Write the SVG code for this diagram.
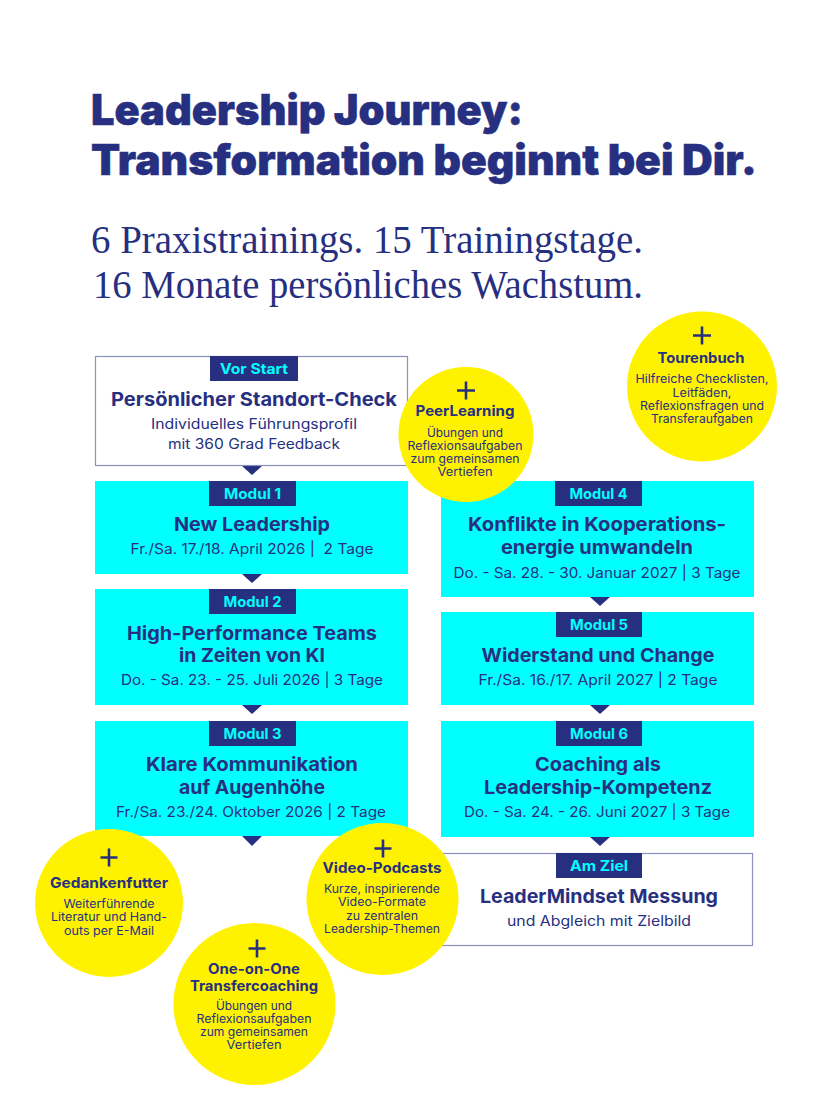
<svg xmlns="http://www.w3.org/2000/svg" width="837" height="1115" viewBox="0 0 837 1115">
<style>
text{font-family:"Inter","Liberation Sans",sans-serif;fill:#262f80;text-anchor:middle}
.h1{font-size:42px;font-weight:900;text-anchor:start;stroke:#262f80;stroke-width:.5}
.h2{font-family:"Liberation Serif",serif;font-size:41px;text-anchor:start}
.box{fill:#00ffff}
.out{fill:#fff;stroke:#8a8fc0;stroke-width:1.2}
.tag{fill:#262f80}
.tt{fill:#00ffff;font-size:14.500px;font-weight:700}
.t{font-size:19px;font-weight:700}
.s{font-size:14px;font-weight:400}
.c{fill:#fff200}
.p{stroke:#262f80;stroke-width:2.600;fill:none}
.ct{font-size:14.500px;font-weight:700}
.cs{font-size:11.500px;font-weight:400}
.ar{fill:#262f80}
</style>
<rect width="837" height="1115" fill="#fff"/>
<g id="title">
<text class="h1" x="91" y="124.500" textLength="432" lengthAdjust="spacingAndGlyphs">Leadership Journey:</text>
<text class="h1" x="91" y="174.500" textLength="666" lengthAdjust="spacingAndGlyphs">Transformation beginnt bei Dir.</text>
<text class="h2" x="91" y="253" textLength="552" lengthAdjust="spacingAndGlyphs">6 Praxistrainings. 15 Trainingstage.</text>
<text class="h2" x="93" y="298" textLength="550" lengthAdjust="spacingAndGlyphs">16 Monate persönliches Wachstum.</text>
</g>
<g id="connectors">
<path class="ar" d="M242 466H262L252 475Z"/>
<path class="ar" d="M242 574H262L252 583Z"/>
<path class="ar" d="M242 705H262L252 714Z"/>
<path class="ar" d="M242 836H262L252 846Z"/>
<path class="ar" d="M590 597H610L600 606Z"/>
<path class="ar" d="M590 705H610L600 714Z"/>
<path class="ar" d="M590 837H610L600 846Z"/>
</g>
<g id="vorstart">
<rect class="out" x="95.500" y="356.500" width="312" height="109"/>
<rect class="tag" x="210" y="356" width="88" height="25"/>
<text class="tt" x="254" y="373.500" textLength="68" lengthAdjust="spacingAndGlyphs">Vor Start</text>
<text class="t" x="254" y="406" textLength="286" lengthAdjust="spacingAndGlyphs">Persönlicher Standort-Check</text>
<text class="s" x="254" y="429" textLength="206" lengthAdjust="spacingAndGlyphs">Individuelles Führungsprofil</text>
<text class="s" x="254" y="449" textLength="172" lengthAdjust="spacingAndGlyphs">mit 360 Grad Feedback</text>
</g>
<g id="modul1">
<rect class="box" x="95" y="481" width="313" height="93"/>
<rect class="tag" x="209" y="481" width="87" height="25"/>
<text class="tt" x="252.500" y="498.500" textLength="57" lengthAdjust="spacingAndGlyphs">Modul 1</text>
<text class="t" x="252" y="531" textLength="156" lengthAdjust="spacingAndGlyphs">New Leadership</text>
<text class="s" x="252" y="554" textLength="243" lengthAdjust="spacingAndGlyphs" xml:space="preserve">Fr./Sa. 17./18. April 2026 |  2 Tage</text>
</g>
<g id="modul2">
<rect class="box" x="95" y="589" width="313" height="116"/>
<rect class="tag" x="209" y="589" width="87" height="25"/>
<text class="tt" x="252.500" y="606.500" textLength="58" lengthAdjust="spacingAndGlyphs">Modul 2</text>
<text class="t" x="252" y="639.500" textLength="250" lengthAdjust="spacingAndGlyphs">High-Performance Teams</text>
<text class="t" x="252" y="662" textLength="146" lengthAdjust="spacingAndGlyphs">in Zeiten von KI</text>
<text class="s" x="252" y="685" textLength="262" lengthAdjust="spacingAndGlyphs">Do. - Sa. 23. - 25. Juli 2026 | 3 Tage</text>
</g>
<g id="modul3">
<rect class="box" x="95" y="721" width="313" height="115"/>
<rect class="tag" x="209" y="721" width="87" height="25"/>
<text class="tt" x="252.500" y="738.500" textLength="58" lengthAdjust="spacingAndGlyphs">Modul 3</text>
<text class="t" x="252" y="771" textLength="212" lengthAdjust="spacingAndGlyphs">Klare Kommunikation</text>
<text class="t" x="252" y="793.500" textLength="146" lengthAdjust="spacingAndGlyphs">auf Augenhöhe</text>
<text class="s" x="251" y="817" textLength="270" lengthAdjust="spacingAndGlyphs">Fr./Sa. 23./24. Oktober 2026 | 2 Tage</text>
</g>
<g id="modul4">
<rect class="box" x="441" y="481" width="313" height="116"/>
<rect class="tag" x="555" y="481" width="87" height="25"/>
<text class="tt" x="598.500" y="498.500" textLength="58" lengthAdjust="spacingAndGlyphs">Modul 4</text>
<text class="t" x="597" y="531" textLength="258" lengthAdjust="spacingAndGlyphs">Konflikte in Kooperations-</text>
<text class="t" x="597" y="554" textLength="192" lengthAdjust="spacingAndGlyphs">energie umwandeln</text>
<text class="s" x="597" y="578" textLength="287" lengthAdjust="spacingAndGlyphs">Do. - Sa. 28. - 30. Januar 2027 | 3 Tage</text>
</g>
<g id="modul5">
<rect class="box" x="441" y="612" width="313" height="93"/>
<rect class="tag" x="556" y="612" width="86" height="25"/>
<text class="tt" x="599" y="629.500" textLength="58" lengthAdjust="spacingAndGlyphs">Modul 5</text>
<text class="t" x="598" y="662" textLength="233" lengthAdjust="spacingAndGlyphs">Widerstand und Change</text>
<text class="s" x="598" y="685" textLength="239" lengthAdjust="spacingAndGlyphs">Fr./Sa. 16./17. April 2027 | 2 Tage</text>
</g>
<g id="modul6">
<rect class="box" x="441" y="721" width="313" height="116"/>
<rect class="tag" x="556" y="721" width="86" height="25"/>
<text class="tt" x="599" y="738.500" textLength="58" lengthAdjust="spacingAndGlyphs">Modul 6</text>
<text class="t" x="598" y="771" textLength="126" lengthAdjust="spacingAndGlyphs">Coaching als</text>
<text class="t" x="598" y="793.500" textLength="228" lengthAdjust="spacingAndGlyphs">Leadership-Kompetenz</text>
<text class="s" x="597" y="817" textLength="266" lengthAdjust="spacingAndGlyphs">Do. - Sa. 24. - 26. Juni 2027 | 3 Tage</text>
</g>
<g id="amziel">
<rect class="out" x="441.500" y="853.500" width="311" height="92"/>
<rect class="tag" x="556" y="853" width="86" height="25"/>
<text class="tt" x="599" y="870.500" textLength="58" lengthAdjust="spacingAndGlyphs">Am Ziel</text>
<text class="t" x="599" y="903" textLength="238" lengthAdjust="spacingAndGlyphs">LeaderMindset Messung</text>
<text class="s" x="599" y="926" textLength="184" lengthAdjust="spacingAndGlyphs">und Abgleich mit Zielbild</text>
</g>
<g id="tourenbuch">
<circle class="c" cx="702" cy="386.500" r="75"/>
<path class="p" d="M702 326.500V344.500M693 335.500H711"/>
<text class="ct" x="701" y="363" textLength="87" lengthAdjust="spacingAndGlyphs">Tourenbuch</text>
<text class="cs" x="702" y="383" textLength="133" lengthAdjust="spacingAndGlyphs">Hilfreiche Checklisten,</text>
<text class="cs" x="702" y="397" textLength="59" lengthAdjust="spacingAndGlyphs">Leitfäden,</text>
<text class="cs" x="702" y="410" textLength="124" lengthAdjust="spacingAndGlyphs">Reflexionsfragen und</text>
<text class="cs" x="702" y="423" textLength="102" lengthAdjust="spacingAndGlyphs">Transferaufgaben</text>
</g>
<g id="peerlearning">
<circle class="c" cx="466" cy="434.500" r="67.500"/>
<path class="p" d="M466 381.500V399.500M457 390.500H475"/>
<text class="ct" x="465" y="416" textLength="99" lengthAdjust="spacingAndGlyphs">PeerLearning</text>
<text class="cs" x="465" y="437" textLength="76" lengthAdjust="spacingAndGlyphs">Übungen und</text>
<text class="cs" x="465" y="450" textLength="115" lengthAdjust="spacingAndGlyphs">Reflexionsaufgaben</text>
<text class="cs" x="465" y="463" textLength="109" lengthAdjust="spacingAndGlyphs">zum gemeinsamen</text>
<text class="cs" x="465" y="476" textLength="55" lengthAdjust="spacingAndGlyphs">Vertiefen</text>
</g>
<g id="gedankenfutter">
<circle class="c" cx="109" cy="903" r="74"/>
<path class="p" d="M109 848.500V866.500M100.500 857.500H117.500"/>
<text class="ct" x="109" y="888" textLength="118" lengthAdjust="spacingAndGlyphs">Gedankenfutter</text>
<text class="cs" x="109" y="908" textLength="91" lengthAdjust="spacingAndGlyphs">Weiterführende</text>
<text class="cs" x="109" y="921" textLength="116" lengthAdjust="spacingAndGlyphs">Literatur und Hand-</text>
<text class="cs" x="109" y="935" textLength="90" lengthAdjust="spacingAndGlyphs">outs per E-Mail</text>
</g>
<g id="onetransfer">
<circle class="c" cx="254.500" cy="1004" r="81"/>
<path class="p" d="M257 939.500V957.500M248.500 948.500H265.500"/>
<text class="ct" x="254" y="974" textLength="92" lengthAdjust="spacingAndGlyphs">One-on-One</text>
<text class="ct" x="254" y="991" textLength="128" lengthAdjust="spacingAndGlyphs">Transfercoaching</text>
<text class="cs" x="254" y="1010" textLength="76" lengthAdjust="spacingAndGlyphs">Übungen und</text>
<text class="cs" x="254" y="1023" textLength="115" lengthAdjust="spacingAndGlyphs">Reflexionsaufgaben</text>
<text class="cs" x="254" y="1036" textLength="108" lengthAdjust="spacingAndGlyphs">zum gemeinsamen</text>
<text class="cs" x="254" y="1049" textLength="55" lengthAdjust="spacingAndGlyphs">Vertiefen</text>
</g>
<g id="videopodcasts">
<circle class="c" cx="382.500" cy="899" r="76"/>
<path class="p" d="M383 839.500V857.500M374.500 848.500H391.500"/>
<text class="ct" x="382" y="873" textLength="119" lengthAdjust="spacingAndGlyphs">Video-Podcasts</text>
<text class="cs" x="382" y="893" textLength="116" lengthAdjust="spacingAndGlyphs">Kurze, inspirierende</text>
<text class="cs" x="382" y="906" textLength="88" lengthAdjust="spacingAndGlyphs">Video-Formate</text>
<text class="cs" x="382" y="920" textLength="72" lengthAdjust="spacingAndGlyphs">zu zentralen</text>
<text class="cs" x="382" y="933" textLength="116" lengthAdjust="spacingAndGlyphs">Leadership-Themen</text>
</g>
</svg>
